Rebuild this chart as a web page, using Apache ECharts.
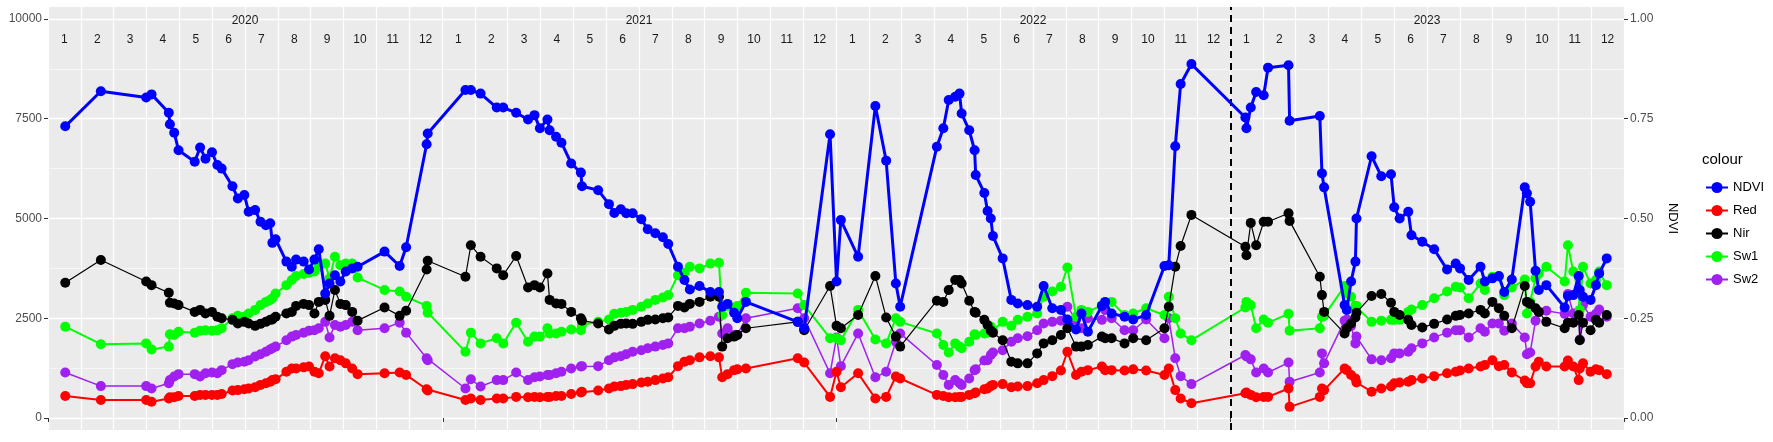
<!DOCTYPE html>
<html>
<head>
<meta charset="utf-8">
<script src="https://cdn.jsdelivr.net/npm/echarts@6/dist/echarts.min.js"></script>
<style>html,body{margin:0;padding:0;background:#fff}#main{width:1773px;height:442px}</style>
</head>
<body>
<div id="main"></div>
<script>
var dates = ['2020-01-17','2020-02-19','2020-04-01','2020-04-06','2020-04-22','2020-04-23','2020-04-27','2020-05-01','2020-05-16','2020-05-21',
'2020-05-26','2020-06-01','2020-06-06','2020-06-10','2020-06-20','2020-06-25','2020-07-01','2020-07-05','2020-07-11','2020-07-16',
'2020-07-21','2020-07-25','2020-07-27','2020-07-30','2020-08-09','2020-08-14','2020-08-18','2020-08-25','2020-08-30','2020-09-04',
'2020-09-08','2020-09-14','2020-09-18','2020-09-23','2020-09-28','2020-10-03','2020-10-09','2020-10-14','2020-11-08','2020-11-22',
'2020-11-28','2020-12-17','2020-12-18','2021-01-22','2021-01-27','2021-02-05','2021-02-20','2021-02-26','2021-03-10','2021-03-21',
'2021-03-27','2021-04-01','2021-04-08','2021-04-10','2021-04-16','2021-04-21','2021-04-30','2021-05-09','2021-05-10','2021-05-25',
'2021-06-04','2021-06-09','2021-06-15','2021-06-20','2021-06-26','2021-07-04','2021-07-10','2021-07-17','2021-07-24','2021-07-29',
'2021-08-07','2021-08-13','2021-08-18','2021-08-27','2021-09-06','2021-09-14','2021-09-17','2021-09-22','2021-09-28','2021-10-01',
'2021-10-09','2021-11-26','2021-12-02','2021-12-26','2022-01-01','2022-01-05','2022-01-21','2022-02-06','2022-02-16','2022-02-25',
'2022-03-01','2022-04-04','2022-04-10','2022-04-15','2022-04-21','2022-04-25','2022-04-27','2022-05-04','2022-05-09','2022-05-10',
'2022-05-18','2022-05-21','2022-05-24','2022-05-26','2022-06-04','2022-06-12','2022-06-18','2022-06-27','2022-07-06','2022-07-12',
'2022-07-20','2022-07-28','2022-08-03','2022-08-11','2022-08-16','2022-08-22','2022-09-04','2022-09-07','2022-09-13','2022-09-25',
'2022-10-03','2022-10-15','2022-11-01','2022-11-05','2022-11-11','2022-11-16','2022-11-26','2023-01-15','2023-01-16','2023-01-20',
'2023-01-25','2023-02-01','2023-02-05','2023-02-24','2023-02-25','2023-03-25','2023-03-27','2023-03-29','2023-04-17','2023-04-19',
'2023-04-23','2023-04-27','2023-04-28','2023-05-12','2023-05-21','2023-05-30','2023-06-02','2023-06-07','2023-06-15','2023-06-18',
'2023-06-28','2023-07-09','2023-07-21','2023-07-29','2023-08-02','2023-08-10','2023-08-21','2023-08-25','2023-09-01','2023-09-07',
'2023-09-12','2023-09-19','2023-10-01','2023-10-03','2023-10-06','2023-10-11','2023-10-14','2023-10-21','2023-11-07','2023-11-10',
'2023-11-15','2023-11-20','2023-11-21','2023-11-24','2023-12-01','2023-12-06','2023-12-09','2023-12-16'];

var ndvi = [.731,.819,.803,.811,.765,.736,.715,.671,.642,.678,
.650,.666,.634,.625,.581,.550,.559,.517,.521,.492,
.483,.488,.439,.448,.392,.379,.397,.392,.372,.397,
.423,.312,.337,.358,.342,.367,.375,.379,.417,.381,
.428,.686,.713,.822,.822,.813,.778,.778,.765,.748,
.759,.726,.748,.721,.705,.690,.638,.615,.581,.571,
.536,.514,.523,.513,.513,.498,.473,.463,.453,.436,
.379,.346,.322,.331,.316,.316,.279,.286,.264,.250,
.291,.241,.225,.711,.342,.496,.404,.782,.645,.337,
.279,.680,.726,.797,.805,.813,.763,.721,.671,.609,
.564,.519,.500,.456,.400,.296,.287,.283,.279,.331,
.275,.271,.247,.222,.262,.216,.281,.291,.262,.254,
.247,.258,.381,.383,.681,.837,.887,.753,.726,.778,
.817,.809,.878,.884,.745,.757,.613,.578,.283,.271,
.342,.392,.500,.656,.606,.611,.528,.500,.517,.458,
.442,.423,.372,.387,.375,.346,.379,.342,.350,.356,
.316,.347,.578,.563,.542,.369,.321,.333,.277,.306,
.308,.356,.321,.304,.296,.333,.362,.400];

var red = [550,450,450,410,490,520,520,550,550,580,
580,580,580,600,690,700,720,740,770,830,
870,910,950,970,1160,1240,1240,1270,1290,1160,
1120,1550,1290,1500,1450,1370,1240,1100,1120,1140,
1080,720,690,450,490,450,490,490,530,520,
530,520,530,530,550,550,600,640,660,690,
740,790,800,830,850,890,910,950,990,1020,
1300,1410,1450,1520,1550,1520,1020,1100,1200,1220,
1240,1500,1390,530,1160,770,1120,490,530,1040,
990,580,550,520,520,530,530,580,620,640,
720,740,800,830,850,770,790,800,870,950,
1050,1190,1660,1080,1160,1200,1290,1200,1200,1190,
1220,1190,1080,1240,700,490,370,620,640,580,
520,530,530,740,280,530,740,700,1240,1200,
1080,990,890,660,740,790,870,890,910,950,
990,1050,1120,1160,1190,1240,1290,1330,1450,1300,
1330,1140,940,870,870,1290,1410,1290,1290,1440,
1290,950,1240,1370,1160,1220,1200,1100];

var nir = [3390,3960,3420,3330,3140,2890,2870,2830,2660,2710,
2620,2660,2540,2500,2460,2370,2410,2370,2310,2360,
2410,2460,2470,2540,2620,2660,2810,2860,2830,2620,
2910,2960,2560,3210,2860,2830,2660,2440,2770,2560,
2690,3720,3940,3540,4330,4040,3750,3580,4060,3270,
3330,3270,3620,2960,2870,2860,2660,2500,2440,2370,
2220,2310,2360,2370,2360,2410,2460,2470,2500,2520,
2810,2770,2860,2910,3040,3040,1790,2000,2040,2080,
2250,2410,2200,3310,2310,2250,2580,3560,2520,2040,
1790,2940,2910,3210,3460,3460,3370,2940,2660,2640,
2460,2330,2190,2140,1950,1410,1370,1370,1620,1870,
1950,2080,2250,1790,1790,1830,2040,2000,2000,1870,
2000,1950,2250,2790,3790,4310,5090,4290,4080,4890,
4330,4920,4920,5130,4940,3540,3080,2660,2120,2250,
2370,2520,2640,3060,3110,2890,2660,2580,2460,2330,
2270,2360,2470,2560,2580,2620,2710,2620,2910,2750,
2560,2250,3310,2910,2860,2750,2660,2410,2250,2390,
2390,2580,1950,2390,2200,2460,2390,2580];

var sw1 = [2290,1850,1870,1720,1790,2100,2080,2160,2140,2190,
2200,2190,2200,2250,2500,2560,2540,2620,2710,2830,
2910,2960,3000,3120,3330,3460,3560,3610,3640,3670,
3790,3870,3500,4040,3830,3870,3870,3520,3210,3170,
3040,2810,2640,1660,2140,1870,2000,1870,2390,1910,
2040,2040,2250,2120,2120,2160,2220,2200,2330,2410,
2470,2610,2640,2660,2710,2790,2870,2960,3020,3080,
3580,3640,3790,3750,3870,3890,2580,2810,2750,2810,
3140,3120,2830,2000,2000,1950,2710,1970,1870,2500,
2410,2120,1830,1640,1870,1790,1750,1910,2100,2080,
2120,2140,2290,2200,2410,2310,2460,2540,2620,3040,
3170,3290,3770,2540,2710,2660,2830,2870,2910,2580,
2620,2750,2580,3040,2500,2120,1950,2770,2910,2830,
2250,2470,2390,2610,2190,2250,2540,2560,3310,3120,
3040,2810,2810,2410,2440,2460,2460,2460,2660,2720,
2830,3000,3170,3290,3270,3000,3370,3210,3540,3540,
3080,3270,3470,2620,2910,3500,3620,3790,3420,4330,
3670,3140,2710,3790,3370,3460,3670,3330];

var sw2 = [1140,800,800,740,870,950,1040,1100,1100,1040,
1120,1140,1120,1200,1350,1390,1410,1450,1540,1600,
1660,1720,1750,1790,1950,2040,2080,2140,2190,2200,
2250,2410,2020,2330,2290,2330,2410,2200,2250,2390,
2140,1500,1450,740,970,790,950,950,1140,950,
1020,1040,1080,1080,1120,1160,1240,1290,1300,1300,
1450,1520,1550,1600,1660,1700,1750,1790,1830,1870,
2250,2250,2290,2370,2440,2540,2120,2250,2080,2080,
2500,2750,2500,1120,2020,1300,2120,1020,1160,1910,
2120,1330,1080,830,950,870,830,990,1200,1220,
1440,1450,1580,1640,1700,1910,2000,2050,2200,2370,
2410,2440,2790,2460,2250,2500,2460,2710,2500,2200,
2200,2470,2000,2500,1500,1050,850,1580,1540,1470,
1140,1240,1140,1390,910,1140,1620,1370,2440,2470,
2310,1870,2040,1470,1450,1500,1620,1620,1660,1750,
1870,2020,2140,2200,2200,2020,2250,2160,2370,2370,
2190,2370,2020,1600,1640,2440,2660,2690,2610,3110,
2620,2660,1970,2830,2540,2610,2720,2540];

var months = [];
for (var y = 0; y < 4; y++) for (var m = 1; m <= 12; m++) months.push(String(m));
var years = ['2020','2021','2022','2023'];
var leftTicks = [0, 2500, 5000, 7500, 10000];
var rightTicks = [0, 0.25, 0.5, 0.75, 1];
var minorTicks = [1250, 3750, 6250, 8750];

function pairs(arr){
    return dates.map(function(d, i){ return [d, arr[i]]; });
}
function makeSeries(name, arr, color, width, axis, z){
    return {
        name: name, type: 'line', data: pairs(arr), yAxisIndex: axis, z: z,
        symbol: 'circle', symbolSize: 10, showSymbol: true,
        lineStyle: {color: color, width: width}, itemStyle: {color: color},
        emphasis: {disabled: true}, animation: false
    };
}

var chart = echarts.init(document.getElementById('main'));
var ndviSeries = makeSeries('NDVI', ndvi, '#0000ff', 3, 1, 6);
ndviSeries.markLine = {
    silent: true, symbol: 'none', label: {show: false},
    lineStyle: {color: '#000', type: [7, 5], width: 2},
    data: [{xAxis: '2023-01-01'}]
};
var option = {
    backgroundColor: '#fff',
    textStyle: {fontFamily: 'Liberation Sans'},
    title: {text: 'colour', left: 1697, top: 147, textStyle: {fontSize: 15, fontWeight: 'normal', color: '#000'}},
    legend: {
        orient: 'vertical', left: 1700, top: 176, itemGap: 10, itemWidth: 22, itemHeight: 14,
        data: ['NDVI', 'Red', 'Nir', 'Sw1', 'Sw2'],
        textStyle: {fontSize: 13, color: '#000'}
    },
    grid: {left: 48, right: 149, top: 7, bottom: 12, show: true, backgroundColor: '#ebebeb', borderWidth: 0},
    xAxis: [
        {type: 'time', min: '2020-01-01', max: '2024-01-01', interval: 365.25 * 86400000,
         axisLine: {show: false}, axisTick: {show: true, length: 4, lineStyle: {color: '#333'}},
         axisLabel: {show: false}, splitLine: {show: false}},
        {type: 'category', position: 'top', data: months, boundaryGap: true,
         axisLine: {show: false}, axisTick: {show: false},
         axisLabel: {inside: true, margin: 27, color: '#1a1a1a', fontSize: 12, interval: 0},
         splitLine: {show: true, lineStyle: {color: '#fff', width: 1.2}}},
        {type: 'category', position: 'top', data: years, boundaryGap: true,
         axisLine: {show: false}, axisTick: {show: false},
         axisLabel: {inside: true, margin: 8, color: '#1a1a1a', fontSize: 12},
         splitLine: {show: false}}
    ],
    yAxis: [
        {type: 'value', min: -300, max: 10300,
         axisLine: {show: false},
         axisTick: {show: true, length: 4, customValues: leftTicks, lineStyle: {color: '#333'}},
         axisLabel: {customValues: leftTicks, color: '#4d4d4d', fontSize: 12, margin: 6,
                     formatter: function(v){ return String(v); }},
         splitLine: {show: true, lineStyle: {color: '#fff', width: 1.3}}},
        {type: 'value', min: -0.03, max: 1.03, position: 'right',
         name: 'NDVI', nameLocation: 'middle', nameRotate: -90, nameGap: 42,
         nameTextStyle: {fontSize: 13, color: '#000'},
         axisLine: {show: false},
         axisTick: {show: true, length: 4, customValues: rightTicks, lineStyle: {color: '#333'}},
         axisLabel: {customValues: rightTicks, color: '#4d4d4d', fontSize: 12, margin: 6,
                     formatter: function(v){ return v.toFixed(2); }},
         splitLine: {show: false}},
        {type: 'value', min: -300, max: 10300, show: true,
         axisLine: {show: false},
         axisTick: {show: false, customValues: minorTicks},
         axisLabel: {show: false, customValues: minorTicks},
         splitLine: {show: true, lineStyle: {color: '#fff', width: 0.6}}}
    ],
    series: [
        makeSeries('Sw2', sw2, '#a020f0', 1.5, 0, 2),
        makeSeries('Sw1', sw1, '#00ff00', 2, 0, 3),
        makeSeries('Nir', nir, '#000000', 1.2, 0, 4),
        makeSeries('Red', red, '#ff0000', 2, 0, 5),
        ndviSeries
    ]
};
chart.setOption(option);
</script>
</body>
</html>
